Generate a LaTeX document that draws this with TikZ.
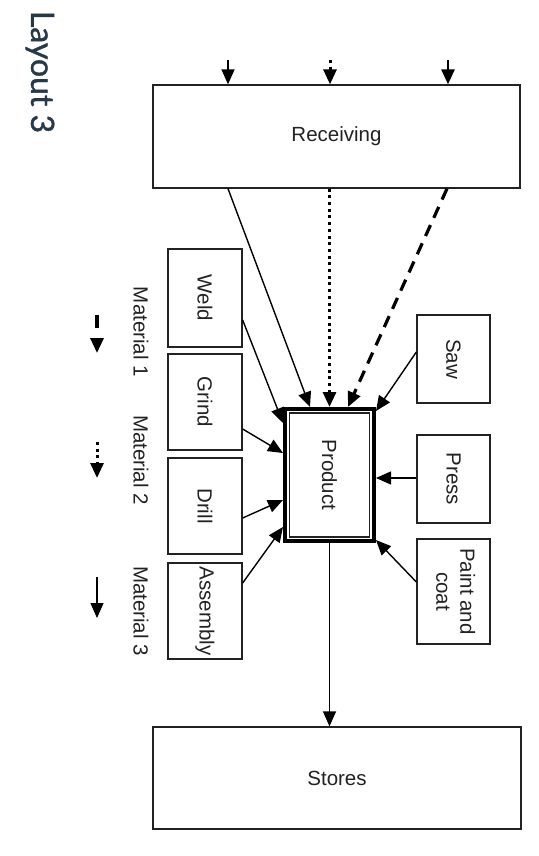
\documentclass[tikz,border=0pt]{standalone}
\usepackage{fontspec}
\setmainfont{Liberation Sans}
\newfontfamily\titlefont[FakeBold=1.2]{Lato}
\usetikzlibrary{arrows.meta,calc}
\definecolor{titleblue}{RGB}{38,56,74}
\definecolor{ink}{RGB}{34,34,34}
\begin{document}
\begin{tikzpicture}[x=1pt,y=-1pt,
  box/.style={draw=ink,line width=1.3pt,fill=white,inner sep=0pt,text=ink,
    font=\fontsize{20.5}{26}\selectfont,align=center},
  vbox/.style={box,minimum width=74pt},
  conn/.style={draw=black,line width=1.4pt,-{Triangle[length=15pt,width=13pt]}},
  dashconn/.style={conn,line width=3.2pt,dash pattern=on 12pt off 8pt},
  dotconn/.style={conn,line width=3pt,dash pattern=on 3pt off 3.7pt},
  legtext/.style={text=ink,font=\fontsize{20.5}{24}\selectfont,inner sep=0pt,rotate=-90}
]
\useasboundingbox (0,0) rectangle (538,856);
\fill[white] (0,0) rectangle (538,856);

% title
\node[text=titleblue,font=\titlefont\fontsize{32}{36}\selectfont,rotate=-90,inner sep=0pt] (title) at (40,72) {Layout 3};

% main boxes
\node[box,minimum width=367pt,minimum height=103pt] (rec) at (336.5,136.5) {Receiving};
\node[box,minimum width=368pt,minimum height=102pt] (stores) at (337,778) {Stores};

% left column
\node[vbox,minimum height=98pt] (weld) at (205,298) {\rotatebox{-90}{Weld}};
\node[vbox,minimum height=96pt] (grind) at (205,402) {\rotatebox{-90}{Grind}};
\node[vbox,minimum height=96pt] (drill) at (205,506) {\rotatebox{-90}{Drill}};
\node[vbox,minimum height=96pt] (asm) at (205,611) {\rotatebox{-90}{Assembly}};

% right column
\node[box,minimum width=73pt,minimum height=88pt] (saw) at (453.5,359) {\rotatebox{-90}{Saw}};
\node[box,minimum width=73pt,minimum height=88pt] (press) at (453.5,479) {\rotatebox{-90}{Press}};
\node[box,minimum width=73pt,minimum height=105pt] (paint) at (453.5,591.5) {\rotatebox{-90}{\begin{tabular}{@{}c@{}}Paint and\\[-2pt] coat\end{tabular}}};

% product
\node[draw=black,line width=4pt,fill=white,minimum width=89pt,minimum height=132pt,inner sep=0pt,
  text=ink,font=\fontsize{20.5}{24}\selectfont] (prod) at (329.5,475) {\rotatebox{-90}{Product}};
\draw[ink,line width=1.3pt] ($(prod.north west)+(6.5,6)$) rectangle ($(prod.south east)+(-6.5,-6)$);

% inputs to receiving
\coordinate (in1) at (228,60);
\coordinate (in2) at (330,60);
\coordinate (in3) at (448,60);
\draw[conn] (in1) -- (in1 |- rec.north);
\draw[dotconn] (in2) -- (in2 |- rec.north);
\draw[conn,line width=2.8pt] (in3) -- (in3 |- rec.north);

% receiving to product
\draw[conn] ($(rec.south)+(-108.5,0)$) -- ($(prod.north)+(-19.5,0)$);
\draw[dotconn] (prod.north |- rec.south) -- (prod.north);
\draw[dashconn] ($(rec.south)+(110.5,0)$) -- ($(prod.north)+(18.5,0)$);

% left column to product
\draw[conn] ($(weld.east)+(0,22)$) -- ($(prod.west)+(0,-52)$);
\draw[conn] ($(grind.east)+(0,27)$) -- ($(prod.west)+(0,-22)$);
\draw[conn] ($(drill.east)+(0,12)$) -- ($(prod.west)+(0,25)$);
\draw[conn] ($(asm.east)+(0,-28)$) -- ($(prod.west)+(0,52)$);

% right column to product
\draw[conn] ($(saw.west)+(0,-7)$) -- ($(prod.east)+(0,-64)$);
\draw[conn] ($(press.west)+(0,-1)$) -- ($(prod.east)+(0,3)$);
\draw[conn] ($(paint.west)+(0,-9.5)$) -- ($(prod.east)+(0,65)$);

% product to stores
\draw[conn] (prod.south) -- (prod.south |- stores.north);

% legend
\coordinate (l1a) at (97,315); \coordinate (l1b) at (97,353);
\coordinate (l2a) at (97,442); \coordinate (l2b) at (97,478);
\coordinate (l3a) at (97,577); \coordinate (l3b) at (97,618);
\draw[dashconn,dash pattern=on 13pt off 30pt] (l1a) -- (l1b);
\draw[dotconn] (l2a) -- (l2b);
\draw[conn] (l3a) -- (l3b);
\node[legtext] (m1) at (141,332) {Material 1};
\node[legtext] (m2) at (141,460) {Material 2};
\node[legtext] (m3) at (141,611) {Material 3};
\end{tikzpicture}
\end{document}
